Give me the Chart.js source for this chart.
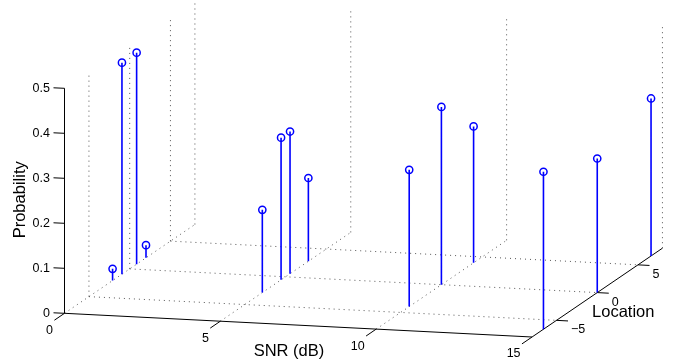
<!DOCTYPE html>
<html>
<head>
<meta charset="utf-8">
<script src="https://cdn.jsdelivr.net/npm/chart.js@4.4.1/dist/chart.umd.min.js"></script>
<style>
  body { margin: 0; background: #fff; }
  canvas { display: block; background: #fff; }
</style>
</head>
<body>
<canvas id="stem" width="683" height="364"></canvas>
<script>
// stem3 data: one group of stems per SNR value
const snr = [0, 5, 10, 15];
const locations = [
  [-2.1, -0.95, 0.85, 2.0],
  [-2.85, -0.55, 0.55, 2.8],
  [-3.95, 0, 3.95],
  [-6.6, 0, 6.6],
];
const probability = [
  [0.026, 0.47, 0.47, 0.028],
  [0.184, 0.316, 0.316, 0.185],
  [0.304, 0.395, 0.303],
  [0.35, 0.298, 0.35],
];

const snrTicks = [0, 5, 10, 15];
const locationTicks = [-5, 0, 5];
const probTicks = [0, 0.1, 0.2, 0.3, 0.4, 0.5];
const snrRange = [0, 15];
const locationRange = [-8, 8];
const probRange = [0, 0.5];

// orthographic view of the 3d box onto the page
const view = {
  ox: 64.5, oy: 313.3,
  ex: [31.17, 1.58],
  ey: [8.15, -5.55],
  ez: [0, -450],
};

function project(x, y, z) {
  const u = x - snrRange[0];
  const v = y - locationRange[0];
  const w = z - probRange[0];
  return {
    x: view.ox + u * view.ex[0] + v * view.ey[0] + w * view.ez[0],
    y: view.oy + u * view.ex[1] + v * view.ey[1] + w * view.ez[1],
  };
}

const gap = { x: null, y: null };

function seg(a, b) {
  return [a, b, gap];
}

// stems and markers
const stems = [];
const tops = [];
snr.forEach((s, i) => {
  locations[i].forEach((loc, j) => {
    const p = probability[i][j];
    stems.push(...seg(project(s, loc, 0), project(s, loc, p)));
    tops.push(project(s, loc, p));
  });
});

// dotted grid: floor lines and vertical lines on back walls
const grid = [];
snrTicks.forEach(s => {
  if (s !== snrRange[1]) grid.push(...seg(project(s, locationRange[0], 0), project(s, locationRange[1], 0)));
  grid.push(...seg(project(s, locationRange[1], 0), project(s, locationRange[1], probRange[1])));
});
locationTicks.forEach(l => {
  grid.push(...seg(project(snrRange[0], l, 0), project(snrRange[1], l, 0)));
  grid.push(...seg(project(snrRange[0], l, 0), project(snrRange[0], l, probRange[1])));
});

// solid axes with tick marks
const axes = [];
axes.push(...seg(project(snrRange[0], locationRange[0], 0), project(snrRange[1], locationRange[0], 0)));
axes.push(...seg(project(snrRange[1], locationRange[0], 0), project(snrRange[1], locationRange[1], 0)));
axes.push(...seg(project(snrRange[0], locationRange[0], 0), project(snrRange[0], locationRange[0], probRange[1])));
snrTicks.forEach(s => {
  const a = project(s, locationRange[0], 0);
  axes.push(...seg(a, { x: a.x - 10.1, y: a.y + 6.9 }));
});
locationTicks.forEach(l => {
  const a = project(snrRange[1], l, 0);
  axes.push(...seg(a, { x: a.x + 11.5, y: a.y + 0.6 }));
});
probTicks.forEach(p => {
  const a = project(snrRange[0], locationRange[0], p);
  axes.push(...seg(a, { x: a.x - 11, y: a.y - 0.5 }));
});

const labelPlugin = {
  id: "labels3d",
  afterDraw(chart) {
    const ctx = chart.ctx;
    const sx = chart.scales.x, sy = chart.scales.y;
    const px = p => ({ x: sx.getPixelForValue(p.x), y: sy.getPixelForValue(p.y) });
    ctx.save();
    ctx.fillStyle = "#000";
    ctx.font = "12.5px 'Liberation Sans', Arial, sans-serif";
    ctx.textBaseline = "middle";

    ctx.textAlign = "right";
    probTicks.forEach(p => {
      const a = px(project(snrRange[0], locationRange[0], p));
      ctx.fillText(String(p), a.x - 14.5, a.y);
    });
    snrTicks.forEach(s => {
      const a = px(project(s, locationRange[0], 0));
      ctx.fillText(String(s), a.x - 11.5, a.y + 17);
    });
    ctx.textAlign = "left";
    locationTicks.forEach(l => {
      const a = px(project(snrRange[1], l, 0));
      ctx.fillText(l < 0 ? "\u2212" + Math.abs(l) : String(l), a.x + 14.5, a.y + 9.5);
    });

    ctx.font = "16.5px 'Liberation Sans', Arial, sans-serif";
    ctx.textAlign = "center";
    const xl = px(project(7.2, locationRange[0], 0));
    ctx.fillText("SNR (dB)", xl.x, xl.y + 26.5);
    const yl = px(project(snrRange[1], 0, 0));
    ctx.fillText("Location", yl.x + 26, yl.y + 20);
    const zl = px(project(snrRange[0], locationRange[0], 0.25));
    ctx.translate(zl.x - 44.5, zl.y - 1);
    ctx.rotate(-Math.PI / 2);
    ctx.fillText("Probability", 0, 0);
    ctx.restore();
  },
};

new Chart(document.getElementById("stem"), {
  type: "scatter",
  data: {
    datasets: [
      {
        data: tops,
        pointStyle: "circle",
        pointRadius: 3.6,
        pointBorderWidth: 1.5,
        pointBorderColor: "#0000ff",
        pointBackgroundColor: "rgba(0,0,0,0)",
        showLine: false,
      },
      {
        data: stems,
        showLine: true,
        borderColor: "#0000ff",
        borderWidth: 1.6,
        pointRadius: 0,
        spanGaps: false,
      },
      {
        data: axes,
        showLine: true,
        borderColor: "#000",
        borderWidth: 1,
        pointRadius: 0,
        spanGaps: false,
      },
      {
        data: grid,
        showLine: true,
        borderColor: "#555",
        borderWidth: 1,
        borderDash: [1, 4],
        pointRadius: 0,
        spanGaps: false,
      },
    ],
  },
  options: {
    responsive: false,
    animation: false,
    layout: { padding: 0, autoPadding: false },
    plugins: { legend: { display: false }, tooltip: { enabled: false } },
    scales: {
      x: { type: "linear", min: 0, max: 683, display: false },
      y: { type: "linear", min: 0, max: 364, reverse: true, display: false },
    },
  },
  plugins: [labelPlugin],
});
</script>
</body>
</html>
